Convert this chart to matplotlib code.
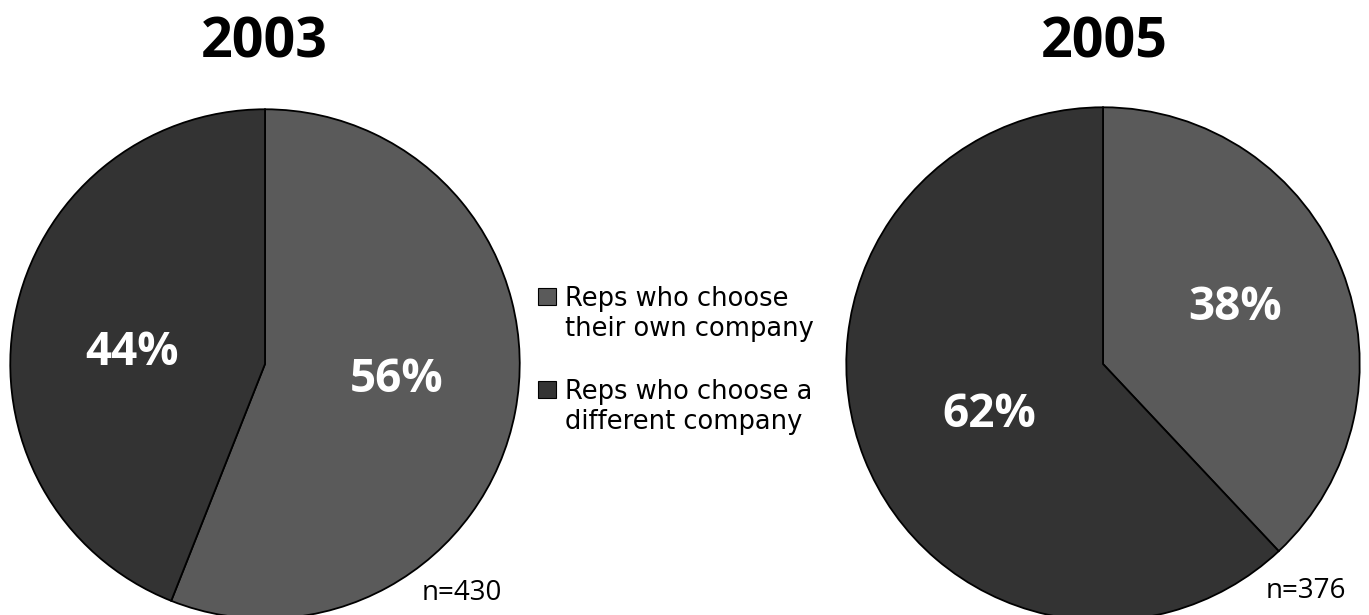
import os
import matplotlib.pyplot as plt
from matplotlib import font_manager
from matplotlib.patches import Rectangle

# Datos del gráfico
categorias = ['Reps who choose\ntheir own company', 'Reps who choose a\ndifferent company']
anios = ['2003', '2005']
valores_2003 = [56, 44]
valores_2005 = [38, 62]
muestras = ['n=430', 'n=376']

colores = ['#5a5a5a', '#333333']

W, H = 1369, 615


# Buscar un archivo de fuente concreto (evita variantes condensadas)
def buscar_fuente(familia, peso):
    candidatos = []
    for f in font_manager.fontManager.ttflist:
        base = os.path.basename(f.fname).lower()
        if f.name != familia or f.style != 'normal':
            continue
        if any(k in base for k in ('condensed', 'semi', 'extra', 'light', 'medium', 'italic', 'black', 'thin')):
            continue
        candidatos.append((abs(f.weight - peso), f.fname))
    if candidatos:
        candidatos.sort()
        return font_manager.FontProperties(fname=candidatos[0][1])
    return font_manager.FontProperties(family='DejaVu Sans', weight=peso)


fp_negrita = buscar_fuente('Open Sans', 700)
fp_normal = buscar_fuente('Open Sans', 400)
fp_leyenda = buscar_fuente('DejaVu Sans', 400)

fig = plt.figure(figsize=(13.69, 6.15), dpi=100)


# Ejes en pixeles a partir del centro y radio del pastel
def ejes_px(cx, cy, r):
    return fig.add_axes([(cx - r) / W, (H - cy - r) / H, 2 * r / W, 2 * r / H])


ax1 = ejes_px(265, 364, 256)
ax2 = ejes_px(1103, 364, 258)

# Posiciones (x centro, línea base) de las etiquetas, en unidades del pastel
pos_etiquetas = [[(0.516, -0.109), (-0.523, -0.004)],
                 [(0.516, 0.171), (-0.442, -0.244)]]

for ax, vals, pos in zip([ax1, ax2], [valores_2003, valores_2005], pos_etiquetas):
    wedges, textos, autotextos = ax.pie(vals, colors=colores, startangle=90, counterclock=False,
                                        autopct='%d%%', wedgeprops=dict(edgecolor='black', linewidth=1.3))
    for t, p in zip(autotextos, pos):
        t.set_position(p)
        t.set_va('baseline')
        t.set_color('white')
        t.set_fontproperties(fp_negrita)
        t.set_fontsize(33)
    ax.set_xlim(-1.005, 1.005)
    ax.set_ylim(-1.005, 1.005)

# Titulos
for x, anio in zip([264, 1104], anios):
    fig.text(x / W, 1 - 57 / H, anio, ha='center', va='baseline', fontproperties=fp_negrita, fontsize=40)

# n de cada muestra
for x, y, m in zip([422, 1266], [600, 598], muestras):
    fig.text(x / W, 1 - y / H, m, ha='left', va='baseline', fontproperties=fp_normal, fontsize=20)

# Leyenda dibujada a mano: cuadro alineado con la primera línea
fp_leyenda.set_size(18.5)
for y_base, color, texto in zip([306, 399], colores, categorias):
    fig.patches.append(Rectangle((538 / W, 1 - (y_base - 1) / H), 18 / W, 17 / H,
                                 transform=fig.transFigure, facecolor=color,
                                 edgecolor='black', linewidth=0.8))
    fig.text(565 / W, 1 - y_base / H, texto.split('\n')[0], ha='left', va='baseline',
             fontproperties=fp_leyenda)
    fig.text(565 / W, 1 - (y_base + 30) / H, texto.split('\n')[1], ha='left', va='baseline',
             fontproperties=fp_leyenda)

fig.savefig('out.png', dpi=100, facecolor='white')
